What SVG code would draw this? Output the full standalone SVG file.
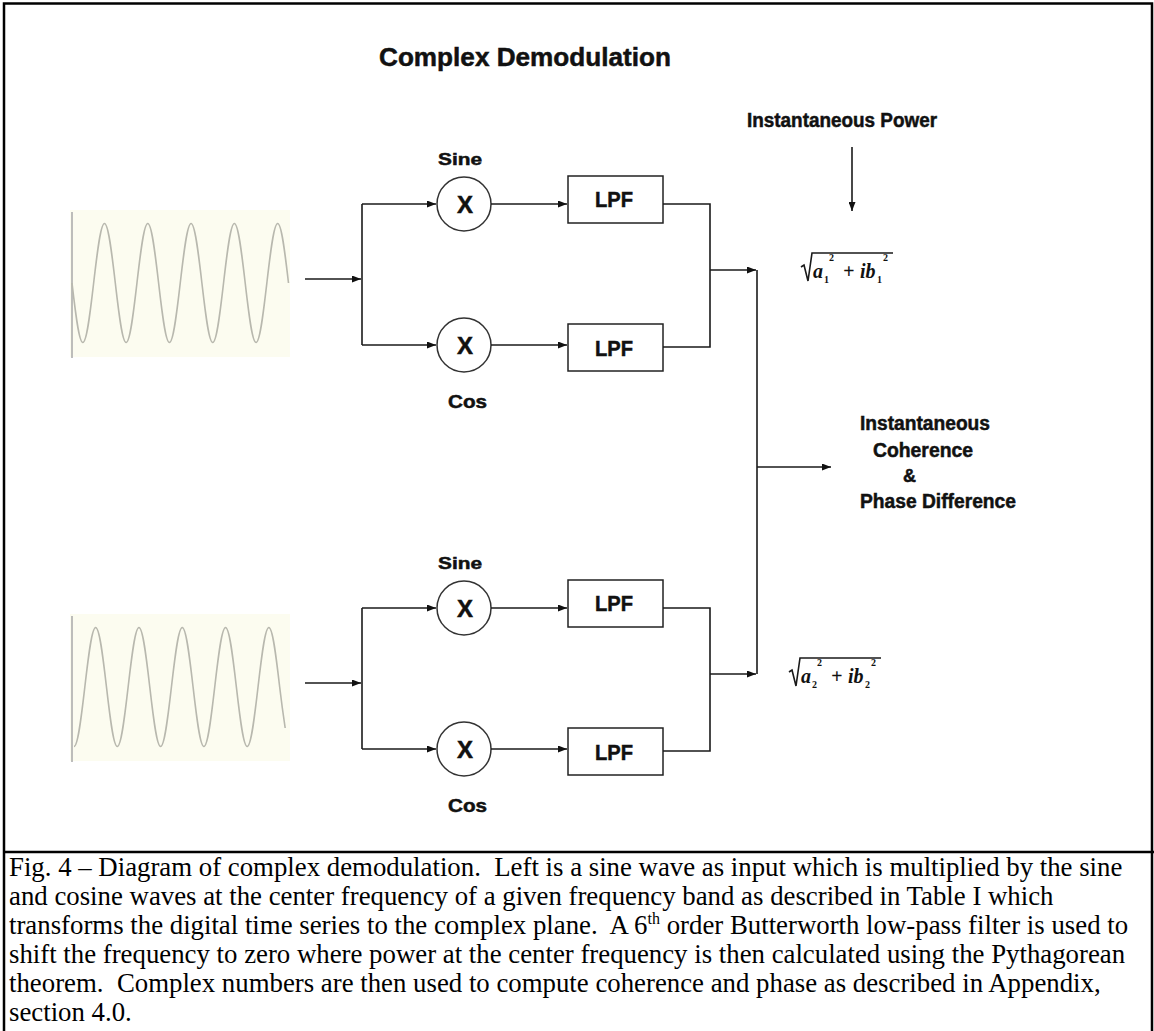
<svg xmlns="http://www.w3.org/2000/svg" width="1154" height="1031" viewBox="0 0 1154 1031">
<style>
.ln{fill:none;stroke:#1a1a1a;stroke-width:1.6}
.ar{marker-end:url(#ah)}
.mul{fill:#fff;stroke:#333;stroke-width:1.5}
.box{fill:#fff;stroke:#222;stroke-width:1.5}
.lbl{font-family:"Liberation Sans",Arial,sans-serif;font-weight:bold;fill:#111;stroke:#111;stroke-width:0.5}
.f{font-family:"Liberation Serif","Times New Roman",serif;font-weight:bold;font-style:italic;font-size:20px;fill:#111}
.s{font-size:10px;font-style:normal}
.cap{font-family:"Liberation Serif","Times New Roman",serif;font-size:26.8px;fill:#000}
.wbg{fill:#fcfcf0}
.wave{fill:none;stroke:#b8b8ae;stroke-width:1.6}
.axis{stroke:#a8a8a8;stroke-width:1.5}
.frame{stroke:#000;stroke-width:2.5;fill:none}
</style>
<defs>
<marker id="ah" markerWidth="9" markerHeight="7" refX="9" refY="3.5" orient="auto" markerUnits="userSpaceOnUse">
<path d="M0,0 L9,3.5 L0,7 z" fill="#111"/>
</marker>
</defs>
<rect width="1154" height="1031" fill="#fff"/>
<g id="frame">
<path class="frame" d="M4,1031 V3.5 H1152 V1031"/>
<path class="frame" d="M4,852 H1154"/>
</g>
<g id="title">
<text class="lbl" x="379" y="66" font-size="26" textLength="292" lengthAdjust="spacingAndGlyphs">Complex Demodulation</text>
</g>
<g id="input-top">
<rect class="wbg" x="70" y="210" width="220" height="147"/>
<line class="axis" x1="72" y1="212" x2="72" y2="358"/>
<path class="wave" d="M72,283 c3.53,30.5 6.91,59.5 10.825,59.5 c3.915,0 7.295,-29 10.825,-59.5 c3.53,-30.5 6.91,-59.5 10.825,-59.5 c3.915,0 7.295,29 10.825,59.5 c3.53,30.5 6.91,59.5 10.825,59.5 c3.915,0 7.295,-29 10.825,-59.5 c3.53,-30.5 6.91,-59.5 10.825,-59.5 c3.915,0 7.295,29 10.825,59.5 c3.53,30.5 6.91,59.5 10.825,59.5 c3.915,0 7.295,-29 10.825,-59.5 c3.53,-30.5 6.91,-59.5 10.825,-59.5 c3.915,0 7.295,29 10.825,59.5 c3.53,30.5 6.91,59.5 10.825,59.5 c3.915,0 7.295,-29 10.825,-59.5 c3.53,-30.5 6.91,-59.5 10.825,-59.5 c3.915,0 7.295,29 10.825,59.5 c3.53,30.5 6.91,59.5 10.825,59.5 c3.915,0 7.295,-29 10.825,-59.5 c3.53,-30.5 6.91,-59.5 10.825,-59.5 c3.915,0 7.295,29 10.825,59.5"/>
</g>
<g id="input-bottom">
<rect class="wbg" x="70" y="614" width="220" height="147"/>
<line class="axis" x1="72" y1="616" x2="72" y2="762"/>
<path class="wave" d="M74,746.5 c3.915,0 7.295,-29 10.825,-59.5 c3.53,-30.5 6.91,-59.5 10.825,-59.5 c3.915,0 7.295,29 10.825,59.5 c3.53,30.5 6.91,59.5 10.825,59.5 c3.915,0 7.295,-29 10.825,-59.5 c3.53,-30.5 6.91,-59.5 10.825,-59.5 c3.915,0 7.295,29 10.825,59.5 c3.53,30.5 6.91,59.5 10.825,59.5 c3.915,0 7.295,-29 10.825,-59.5 c3.53,-30.5 6.91,-59.5 10.825,-59.5 c3.915,0 7.295,29 10.825,59.5 c3.53,30.5 6.91,59.5 10.825,59.5 c3.915,0 7.295,-29 10.825,-59.5 c3.53,-30.5 6.91,-59.5 10.825,-59.5 c3.915,0 7.295,29 10.825,59.5 c3.53,30.5 6.91,59.5 10.825,59.5 c3.915,0 7.295,-29 10.825,-59.5 c3.53,-30.5 6.91,-59.5 10.825,-59.5 c3.915,0 7.295,29 10.825,59.5 c2,17 4,31 5.5,41"/>
</g>
<g id="mult-sine-top">
<text class="lbl" x="438" y="165" font-size="17" textLength="44" lengthAdjust="spacingAndGlyphs">Sine</text>
<circle class="mul" cx="464" cy="204" r="27"/>
<text class="lbl" x="465" y="213" font-size="24" text-anchor="middle">X</text>
</g>
<g id="mult-cos-top">
<circle class="mul" cx="464" cy="345" r="27"/>
<text class="lbl" x="465" y="354" font-size="24" text-anchor="middle">X</text>
<text class="lbl" x="448" y="408" font-size="18" textLength="39" lengthAdjust="spacingAndGlyphs">Cos</text>
</g>
<g id="lpf-sine-top">
<rect class="box" x="568" y="176" width="95" height="47"/>
<text class="lbl" x="595" y="207" font-size="22" textLength="38" lengthAdjust="spacingAndGlyphs">LPF</text>
</g>
<g id="lpf-cos-top">
<rect class="box" x="568" y="324" width="95" height="47"/>
<text class="lbl" x="595" y="356" font-size="22" textLength="38" lengthAdjust="spacingAndGlyphs">LPF</text>
</g>
<g id="mult-sine-bottom">
<text class="lbl" x="438" y="569" font-size="17" textLength="44" lengthAdjust="spacingAndGlyphs">Sine</text>
<circle class="mul" cx="464" cy="608" r="27"/>
<text class="lbl" x="465" y="617" font-size="24" text-anchor="middle">X</text>
</g>
<g id="mult-cos-bottom">
<circle class="mul" cx="464" cy="749" r="27"/>
<text class="lbl" x="465" y="758" font-size="24" text-anchor="middle">X</text>
<text class="lbl" x="448" y="812" font-size="18" textLength="39" lengthAdjust="spacingAndGlyphs">Cos</text>
</g>
<g id="lpf-sine-bottom">
<rect class="box" x="568" y="580" width="95" height="47"/>
<text class="lbl" x="595" y="611" font-size="22" textLength="38" lengthAdjust="spacingAndGlyphs">LPF</text>
</g>
<g id="lpf-cos-bottom">
<rect class="box" x="568" y="728" width="95" height="47"/>
<text class="lbl" x="595" y="760" font-size="22" textLength="38" lengthAdjust="spacingAndGlyphs">LPF</text>
</g>
<g id="power-label">
<text class="lbl" x="747" y="127" font-size="20" textLength="190" lengthAdjust="spacingAndGlyphs">Instantaneous Power</text>
</g>
<g id="power-top">
<path class="ln" d="M801,267 L804,265 L808,281 L812,253 H893"/>
<text class="f"><tspan x="813" y="278">a</tspan><tspan class="s" x="824" y="283">1</tspan><tspan class="s" x="829" y="261">2</tspan><tspan x="843" y="278">+</tspan><tspan x="860" y="278">ib</tspan><tspan class="s" x="877" y="283">1</tspan><tspan class="s" x="883" y="261">2</tspan></text>
</g>
<g id="power-bottom">
<path class="ln" d="M789,672 L792,670 L796,686 L800,658 H881"/>
<text class="f"><tspan x="801" y="683">a</tspan><tspan class="s" x="812" y="688">2</tspan><tspan class="s" x="817" y="666">2</tspan><tspan x="831" y="683">+</tspan><tspan x="848" y="683">ib</tspan><tspan class="s" x="865" y="688">2</tspan><tspan class="s" x="871" y="666">2</tspan></text>
</g>
<g id="output">
<text class="lbl" x="860" y="430" font-size="20" textLength="130" lengthAdjust="spacingAndGlyphs">Instantaneous</text>
<text class="lbl" x="873" y="457" font-size="20" textLength="100" lengthAdjust="spacingAndGlyphs">Coherence</text>
<text class="lbl" x="903" y="482" font-size="18">&amp;</text>
<text class="lbl" x="860" y="508" font-size="20" textLength="156" lengthAdjust="spacingAndGlyphs">Phase Difference</text>
</g>
<g id="connectors">
<path class="ln ar" d="M305,279 H361"/>
<path class="ln" d="M362,204 V345"/>
<path class="ln ar" d="M362,204 H436"/>
<path class="ln ar" d="M362,345 H436"/>
<path class="ln ar" d="M491,204 H567"/>
<path class="ln ar" d="M491,345 H567"/>
<path class="ln" d="M663,204 H710 V347 H663"/>
<path class="ln ar" d="M710,270 H756"/>
<path class="ln ar" d="M305,683 H361"/>
<path class="ln" d="M362,608 V749"/>
<path class="ln ar" d="M362,608 H436"/>
<path class="ln ar" d="M362,749 H436"/>
<path class="ln ar" d="M491,608 H567"/>
<path class="ln ar" d="M491,749 H567"/>
<path class="ln" d="M663,608 H710 V751 H663"/>
<path class="ln ar" d="M710,674 H756"/>
<path class="ln" d="M757,270 V674"/>
<path class="ln ar" d="M757,467 H831"/>
<path class="ln ar" d="M852,147 V211"/>
</g>
<g id="caption">
<text class="cap" xml:space="preserve" x="9" y="876">Fig. 4 – Diagram of complex demodulation.  Left is a sine wave as input which is multiplied by the sine</text>
<text class="cap" xml:space="preserve" x="9" y="905">and cosine waves at the center frequency of a given frequency band as described in Table I which</text>
<text class="cap" xml:space="preserve" x="9" y="934">transforms the digital time series to the complex plane.  A 6<tspan font-size="16" dy="-10">th</tspan><tspan dy="10"> order Butterworth low-pass filter is used to</tspan></text>
<text class="cap" xml:space="preserve" x="9" y="963">shift the frequency to zero where power at the center frequency is then calculated using the Pythagorean</text>
<text class="cap" xml:space="preserve" x="9" y="992">theorem.  Complex numbers are then used to compute coherence and phase as described in Appendix,</text>
<text class="cap" xml:space="preserve" x="9" y="1021">section 4.0.</text>
</g>
</svg>
